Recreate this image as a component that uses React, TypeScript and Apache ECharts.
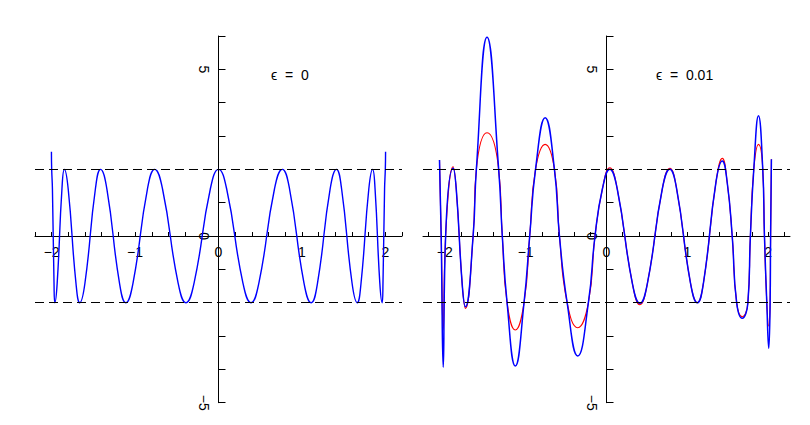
import React, { useEffect, useRef } from 'react';
import * as echarts from 'echarts';

// ε = 0 panel (left): extrema and the points where the curve passes ±1.41
const leftX = [
  -2.003, -2.0, -1.991, -1.972, -1.962, -1.934, -1.877, -1.848, -1.802, -1.709, -1.663, -1.601,
  -1.476, -1.414, -1.338, -1.187, -1.111, -1.025, -0.852, -0.765, -0.671, -0.484, -0.39, -0.293,
  -0.098, 0, 0.098, 0.293, 0.39, 0.484, 0.671, 0.765, 0.852, 1.025, 1.111, 1.187, 1.338, 1.414,
  1.476, 1.601, 1.663, 1.709, 1.802, 1.848, 1.877, 1.934, 1.962, 1.972, 1.991, 2.0, 2.003,
];
const leftY = [
  2.53, 2, 1.41, -1.41, -2, -1.41, 1.41, 2, 1.41, -1.41, -2, -1.41, 1.41, 2, 1.41, -1.41, -2,
  -1.41, 1.41, 2, 1.41, -1.41, -2, -1.41, 1.41, 2, 1.41, -1.41, -2, -1.41, 1.41, 2, 1.41, -1.41,
  -2, -1.41, 1.41, 2, 1.41, -1.41, -2, -1.41, 1.41, 2, 1.41, -1.41, -2, -1.41, 1.41, 2, 2.53,
];

// ε = 0.01 panel (right)
const rightX = [
  -2.066, -2.045, -2.02, -1.99, -1.897, -1.859, -1.783, -1.745, -1.65, -1.61, -1.478, -1.334,
  -1.289, -1.23, -1.128, -1.02, -0.95, -0.878, -0.759, -0.644, -0.582, -0.487, -0.356, -0.224,
  -0.142, -0.051, 0.04, 0.133, 0.32, 0.413, 0.506, 0.69, 0.783, 0.868, 1.039, 1.124, 1.201, 1.355,
  1.432, 1.494, 1.555, 1.61, 1.679, 1.749, 1.78, 1.822, 1.88, 1.933, 1.954, 1.983, 2.007, 2.024,
  2.03, 2.04,
];
const blueY = [
  2.28, 0, -3.94, 0, 2.03, 1.42, -1.51, -2.12, 0, 2, 5.96, 2, 0, -2, -3.9, -2, 0, 2, 3.55, 2, 0,
  -2, -3.6, -2, 0, 1.41, 2.0, 1.41, -1.42, -2.02, -1.42, 1.41, 2.0, 1.41, -1.41, -2.0, -1.38, 1.63,
  2.25, 1.59, 0, -2, -2.47, -2, 0, 2, 3.61, 2, 0, -2, -3.37, -2, 0, 2.3,
];
const redY = [
  2.28, 0, -2.82, 0, 2.08, 1.42, -1.51, -2.17, 0, 2, 3.1, 2, 0, -2, -2.82, -2, 0, 2, 2.75, 2, 0,
  -2, -2.75, -2, 0, 1.41, 2.05, 1.41, -1.42, -2.06, -1.42, 1.41, 2.03, 1.41, -1.41, -2.0, -1.38,
  1.63, 2.33, 1.59, 0, -2, -2.42, -2, 0, 2, 2.75, 2, 0, -2, -2.7, -2, 0, 2.3,
];

const xTickValues = [
  -2.2, -2.0, -1.8, -1.6, -1.4, -1.2, -1.0, -0.8, -0.6, -0.4, -0.2, 0, 0.2, 0.4, 0.6, 0.8, 1.0,
  1.2, 1.4, 1.6, 1.8, 2.0, 2.2,
];
const xLabelValues = [-2, -1, 0, 1, 2];
const yLabelValues = [-5, 0, 5];
const dashedLevels = [2, -2];
const titles = ['ϵ\u00a0\u00a0=\u00a0\u00a00', 'ϵ\u00a0\u00a0=\u00a0\u00a00.01'];

const FONT = '"Liberation Sans", "DejaVu Sans", sans-serif';
const fmt = (v: number) => (v < 0 ? '\u2212' + Math.abs(v) : String(v));
const zip = (xs: number[], ys: number[]) => xs.map((x, i) => [x, ys[i]]);

const Y_MIN = -5;
const Y_MAX = 6;
const GRID_W = 367;
const GRID_H = 366.7;

export default function App() {
  const ref = useRef<HTMLDivElement>(null);
  useEffect(() => {
    if (!ref.current) return;
    const chart = echarts.init(ref.current, undefined, { renderer: 'svg' });
    const axisLine = { onZero: false, lineStyle: { color: '#000', width: 1 } };
    const xOffset = -GRID_H * (0 - Y_MIN) / (Y_MAX - Y_MIN);
    const mkX = (idx: number, min: number, max: number) => ({
      type: 'value',
      gridIndex: idx,
      min,
      max,
      position: 'bottom',
      offset: xOffset,
      axisLine,
      axisTick: { inside: true, length: 4, customValues: xTickValues, lineStyle: { color: '#000' } },
      axisLabel: {
        customValues: xLabelValues,
        formatter: (v: number) => fmt(v),
        color: '#000',
        fontFamily: FONT,
        fontSize: 14,
        margin: 9,
      },
      splitLine: { show: false },
    });
    const mkY = (idx: number, xmin: number, xmax: number) => ({
      type: 'value',
      gridIndex: idx,
      min: Y_MIN,
      max: Y_MAX,
      interval: 1,
      position: 'left',
      offset: -GRID_W * (0 - xmin) / (xmax - xmin),
      axisLine,
      axisTick: { inside: true, length: 7, lineStyle: { color: '#000' } },
      axisLabel: {
        formatter: (v: number) => (yLabelValues.includes(v) ? fmt(v) : ''),
        rotate: -90,
        color: '#000',
        fontFamily: FONT,
        fontSize: 14,
        margin: 8,
      },
      splitLine: { show: false },
    });
    const markLine = {
      silent: true,
      symbol: ['none', 'none'],
      label: { show: false },
      lineStyle: { color: '#000', type: [9, 5], width: 1 },
      data: dashedLevels.map((v) => ({ yAxis: v })),
    };
    chart.setOption({
      animation: false,
      backgroundColor: '#fff',
      grid: [
        { left: 35, top: 36, width: GRID_W, height: GRID_H },
        { left: 423, top: 36, width: GRID_W, height: GRID_H },
      ],
      xAxis: [mkX(0, -2.2, 2.2), mkX(1, -2.27, 2.27)],
      yAxis: [mkY(0, -2.2, 2.2), mkY(1, -2.27, 2.27)],
      series: [
        {
          type: 'line',
          xAxisIndex: 0,
          yAxisIndex: 0,
          data: zip(leftX, leftY),
          smooth: 0.5,
          showSymbol: false,
          lineStyle: { color: '#0000ff', width: 1.4 },
          markLine,
        },
        {
          type: 'line',
          xAxisIndex: 1,
          yAxisIndex: 1,
          data: zip(rightX, redY),
          smooth: 0.5,
          showSymbol: false,
          lineStyle: { color: '#ff0000', width: 1.1 },
          markLine,
        },
        {
          type: 'line',
          xAxisIndex: 1,
          yAxisIndex: 1,
          data: zip(rightX, blueY),
          smooth: 0.5,
          showSymbol: false,
          lineStyle: { color: '#0000ff', width: 1.5 },
        },
      ],
      graphic: [
        {
          type: 'text',
          x: 271,
          y: 75,
          style: {
            text: titles[0],
            fill: '#000',
            font: '14px ' + FONT,
            verticalAlign: 'middle',
            textVerticalAlign: 'middle',
          },
        },
        {
          type: 'text',
          x: 656,
          y: 75,
          style: {
            text: titles[1],
            fill: '#000',
            font: '14px ' + FONT,
            verticalAlign: 'middle',
            textVerticalAlign: 'middle',
          },
        },
      ],
    });
    return () => chart.dispose();
  }, []);
  return (
    <div
      ref={ref}
      style={{ position: 'absolute', left: 0, top: 0, width: 810, height: 425, background: '#fff' }}
    />
  );
}
